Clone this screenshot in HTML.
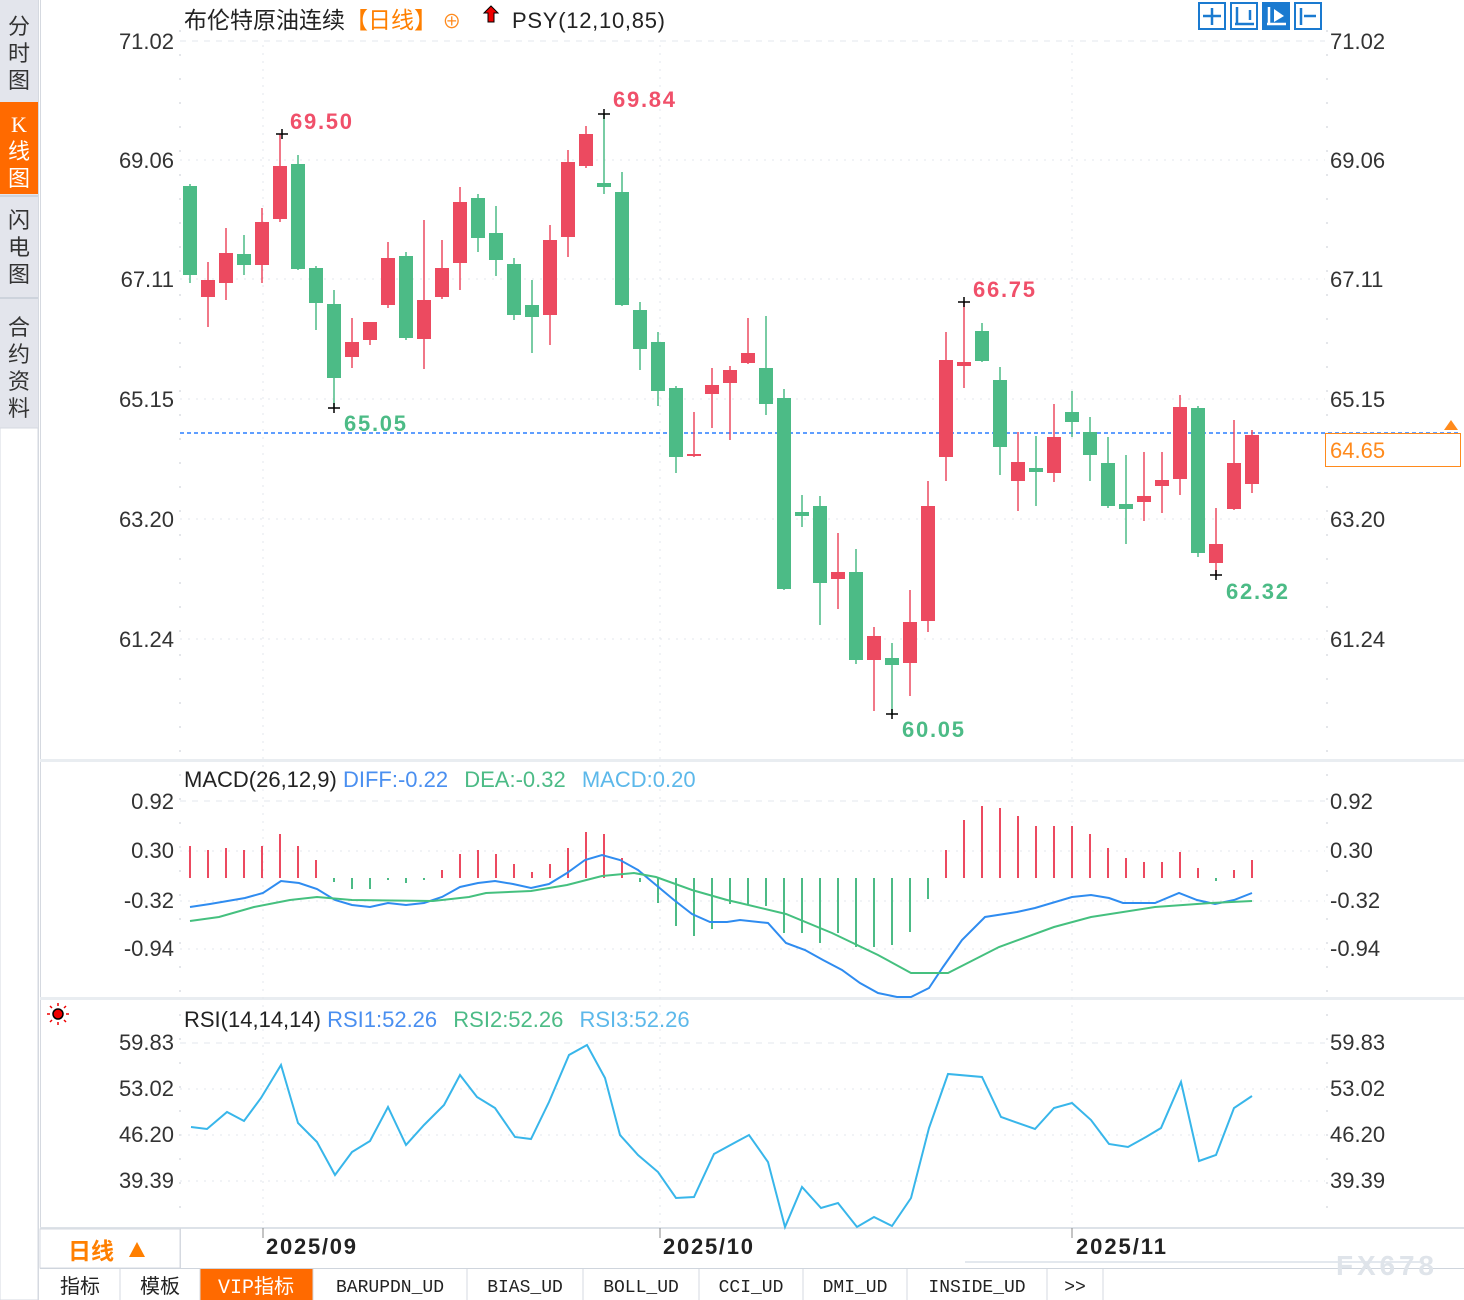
<!DOCTYPE html>
<html><head><meta charset="utf-8"><style>
html,body{margin:0;padding:0;background:#fff;}
svg{display:block;font-family:"Liberation Sans","Noto Sans CJK SC",sans-serif;}
</style></head><body>
<svg width="1464" height="1300" viewBox="0 0 1464 1300" xmlns="http://www.w3.org/2000/svg">
<rect width="1464" height="1300" fill="#fff"/>
<!-- sidebar -->
<rect x="0" y="0" width="38" height="428" fill="#e3e5ec"/>
<rect x="0" y="102" width="38" height="92" fill="#ff6a00"/>
<line x1="0" y1="196" x2="38" y2="196" stroke="#cdd3dc" stroke-width="2"/>
<line x1="0" y1="298" x2="38" y2="298" stroke="#cdd3dc" stroke-width="2"/>
<rect x="0" y="428" width="38" height="872" fill="#fff" stroke="#d5d9e0"/>
<line x1="38.5" y1="0" x2="38.5" y2="1300" stroke="#d5d9e0"/>
<g font-size="22" fill="#333" text-anchor="middle" font-family="'Noto Sans CJK SC',sans-serif">
<text x="19" y="34">分</text><text x="19" y="61">时</text><text x="19" y="88">图</text>
<text x="19" y="132" fill="#fff" font-family="'Liberation Serif',serif">K</text><text x="19" y="159" fill="#fff">线</text><text x="19" y="186" fill="#fff">图</text>
<text x="19" y="228">闪</text><text x="19" y="255">电</text><text x="19" y="282">图</text>
<text x="19" y="335">合</text><text x="19" y="362">约</text><text x="19" y="389">资</text><text x="19" y="416">料</text>
</g>
<line x1="40.5" y1="0" x2="40.5" y2="1268" stroke="#d5d9e0"/>
<!-- separators -->
<rect x="40" y="759" width="1424" height="3" fill="#e9edf1"/>
<rect x="40" y="997" width="1424" height="3" fill="#e9edf1"/>
<rect x="40" y="1227" width="1424" height="2" fill="#dde2e8"/>
<!-- axis lines -->
<g stroke="#c9ced6" stroke-dasharray="2,22">
<line x1="180" y1="30" x2="180" y2="1228"/>
<line x1="1327" y1="30" x2="1327" y2="1228"/>
</g>
<!-- grid -->
<g stroke="#e3e7ec" stroke-dasharray="6,6">
<line x1="180" y1="41" x2="1325" y2="41"/>
<line x1="180" y1="801" x2="1325" y2="801"/>
<line x1="180" y1="1043" x2="1325" y2="1043"/>
</g>
<g stroke="#e3e7ec" stroke-dasharray="2,6">
<line x1="180" y1="160" x2="1325" y2="160"/><line x1="180" y1="279" x2="1325" y2="279"/>
<line x1="180" y1="399" x2="1325" y2="399"/><line x1="180" y1="519" x2="1325" y2="519"/>
<line x1="180" y1="639" x2="1325" y2="639"/>
<line x1="180" y1="851" x2="1325" y2="851"/><line x1="180" y1="901" x2="1325" y2="901"/><line x1="180" y1="949" x2="1325" y2="949"/>
<line x1="180" y1="1089" x2="1325" y2="1089"/><line x1="180" y1="1135" x2="1325" y2="1135"/><line x1="180" y1="1181" x2="1325" y2="1181"/>
<line x1="263" y1="45" x2="263" y2="1228"/><line x1="660" y1="45" x2="660" y2="1228"/><line x1="1072" y1="45" x2="1072" y2="1228"/>
</g>
<!-- axis labels -->
<g font-size="22" fill="#333" text-anchor="end">
<text x="174" y="49">71.02</text><text x="174" y="168">69.06</text><text x="174" y="287">67.11</text>
<text x="174" y="407">65.15</text><text x="174" y="527">63.20</text><text x="174" y="647">61.24</text>
<text x="174" y="809">0.92</text><text x="174" y="858">0.30</text><text x="174" y="908">-0.32</text><text x="174" y="956">-0.94</text>
<text x="174" y="1050">59.83</text><text x="174" y="1096">53.02</text><text x="174" y="1142">46.20</text><text x="174" y="1188">39.39</text>
</g>
<g font-size="22" fill="#333">
<text x="1330" y="49">71.02</text><text x="1330" y="168">69.06</text><text x="1330" y="287">67.11</text>
<text x="1330" y="407">65.15</text><text x="1330" y="527">63.20</text><text x="1330" y="647">61.24</text>
<text x="1330" y="809">0.92</text><text x="1330" y="858">0.30</text><text x="1330" y="908">-0.32</text><text x="1330" y="956">-0.94</text>
<text x="1330" y="1050">59.83</text><text x="1330" y="1096">53.02</text><text x="1330" y="1142">46.20</text><text x="1330" y="1188">39.39</text>
</g>
<!-- title -->
<text x="184" y="28" font-size="23" fill="#222">布伦特原油连续<tspan fill="#ff7f00">【日线】</tspan><tspan fill="#ff8a1c" font-size="19"> ⊕</tspan></text>
<path d="M491 6 L498 13 L494 13 L494 22 L488 22 L488 13 L484 13 Z" fill="#e00" stroke="#000" stroke-width="1"/>
<text x="512" y="28" font-size="22" fill="#222" textLength="153">PSY(12,10,85)</text>
<!-- top-right buttons -->
<g stroke="#1a7ad0" stroke-width="2" fill="#fff">
<rect x="1199" y="3" width="26" height="26"/><rect x="1231" y="3" width="26" height="26"/><rect x="1263" y="3" width="26" height="26" fill="#1a7ad0"/><rect x="1295" y="3" width="26" height="26"/>
</g>
<g stroke="#1a7ad0" stroke-width="2.5">
<line x1="1212" y1="8" x2="1212" y2="25"/><line x1="1203" y1="16" x2="1221" y2="16"/>
<line x1="1237" y1="7" x2="1237" y2="25"/><line x1="1235" y1="24" x2="1254" y2="24"/><line x1="1250" y1="10" x2="1250" y2="20"/>
<line x1="1301" y1="8" x2="1301" y2="25"/><line x1="1304" y1="16" x2="1316" y2="16"/>
</g>
<g stroke="#fff" stroke-width="2.5"><line x1="1269" y1="7" x2="1269" y2="25"/><line x1="1267" y1="24" x2="1286" y2="24"/></g>
<path d="M1274 9 L1284 16 L1274 22 Z" fill="#fff"/>
<!-- price dashed line -->
<line x1="180" y1="433" x2="1460" y2="433" stroke="#2a7fff" stroke-width="1.5" stroke-dasharray="4,3"/>
<rect x="1325.5" y="433.5" width="135" height="33" fill="#fff" stroke="#ff8a1c"/>
<text x="1330" y="458" font-size="22" fill="#ff8a1c">64.65</text>
<path d="M1444 430 L1451 420 L1458 430 Z" fill="#ff8a1c"/>
<!-- candles -->
<g id="candles"></g>
<!-- markers -->
<g stroke="#000" stroke-width="1.5">
<line x1="276" y1="134" x2="288" y2="134"/><line x1="282" y1="129" x2="282" y2="139"/>
<line x1="598" y1="114" x2="610" y2="114"/><line x1="604" y1="109" x2="604" y2="119"/>
<line x1="328" y1="408" x2="340" y2="408"/><line x1="334" y1="403" x2="334" y2="413"/>
<line x1="886" y1="714" x2="898" y2="714"/><line x1="892" y1="709" x2="892" y2="719"/>
<line x1="958" y1="302" x2="970" y2="302"/><line x1="964" y1="297" x2="964" y2="307"/>
<line x1="1210" y1="575" x2="1222" y2="575"/><line x1="1216" y1="570" x2="1216" y2="580"/>
</g>
<g font-size="22" font-weight="bold">
<text x="290" y="129" fill="#f0506a" textLength="62">69.50</text>
<text x="613" y="107" fill="#f0506a" textLength="62">69.84</text>
<text x="973" y="297" fill="#f0506a" textLength="62">66.75</text>
<text x="344" y="431" fill="#4cbb86" textLength="62">65.05</text>
<text x="902" y="737" fill="#4cbb86" textLength="62">60.05</text>
<text x="1226" y="599" fill="#4cbb86" textLength="62">62.32</text>
</g>
<!-- MACD -->
<text x="184" y="787" font-size="22" fill="#222">MACD(26,12,9) <tspan fill="#4a8ff0">DIFF:-0.22</tspan>  <tspan fill="#4cbb86" dx="10">DEA:-0.32</tspan>  <tspan fill="#5cb8ea" dx="10">MACD:0.20</tspan></text>
<g id="macdbars" stroke-width="2"></g>
<polyline fill="none" stroke="#2f8cf0" stroke-width="2" points="190,907 210,904 245,898 263,893 281,881 299,883 317,889 335,900 352,905 370,907 388,903 406,905 424,903 442,897 460,887 478,883 495,881 513,884 531,888 549,884 567,873 585,860 602,855 620,860 638,870 656,885 674,900 692,914 710,922 727,922 740,920 768,923 786,943 805,950 823,960 842,970 860,983 878,993 897,997 911,997 929,988 943,967 962,940 985,917 1017,912 1035,908 1072,897 1091,895 1109,898 1123,903 1155,903 1179,893 1197,900 1215,904 1234,900 1252,893"/>
<polyline fill="none" stroke="#45c07f" stroke-width="2" points="190,921 219,917 254,907 290,900 317,897 352,900 433,901 469,897 486,893 531,891 567,885 602,876 634,873 656,877 692,890 727,900 740,903 786,914 832,933 878,955 911,973 948,973 999,947 1054,927 1091,917 1155,907 1211,903 1252,901"/>
<!-- RSI -->
<g transform="translate(58,1014)"><circle r="5" fill="#e00" stroke="#000" stroke-width="1.5"/>
<g stroke="#e00" stroke-width="1.5"><line x1="0" y1="-11" x2="0" y2="-8"/><line x1="0" y1="8" x2="0" y2="11"/><line x1="-11" y1="0" x2="-8" y2="0"/><line x1="8" y1="0" x2="11" y2="0"/><line x1="-8" y1="-8" x2="-6" y2="-6"/><line x1="8" y1="8" x2="6" y2="6"/><line x1="-8" y1="8" x2="-6" y2="6"/><line x1="8" y1="-8" x2="6" y2="-6"/></g></g>
<text x="184" y="1027" font-size="22" fill="#222">RSI(14,14,14) <tspan fill="#4a8ff0">RSI1:52.26</tspan>  <tspan fill="#4cbb86" dx="10">RSI2:52.26</tspan>  <tspan fill="#5cb8ea" dx="10">RSI3:52.26</tspan></text>
<polyline fill="none" stroke="#38b6ea" stroke-width="2" points="191,1127 207,1129 227,1112 244,1121 261,1098 281,1065 298,1123 317,1142 335,1175 352,1152 370,1141 388,1107 406,1145 424,1125 444,1105 460,1075 477,1097 495,1108 515,1137 531,1139 549,1102 569,1055 587,1045 605,1078 620,1135 638,1155 658,1172 676,1198 694,1197 714,1154 736,1142 749,1135 768,1162 785,1227 802,1187 821,1208 838,1203 857,1227 874,1217 892,1226 911,1198 929,1128 948,1074 982,1077 1001,1117 1035,1129 1054,1108 1072,1103 1091,1120 1109,1144 1128,1147 1146,1137 1161,1128 1181,1082 1199,1161 1216,1155 1234,1108 1252,1096"/>
<!-- date axis -->
<line x1="180.5" y1="1228" x2="180.5" y2="1268" stroke="#d5d9e0"/>
<g stroke="#888"><line x1="263" y1="1228" x2="263" y2="1238"/><line x1="660" y1="1228" x2="660" y2="1238"/><line x1="1072" y1="1228" x2="1072" y2="1238"/></g>
<g font-size="22" fill="#222" font-weight="bold"><text x="266" y="1254" textLength="90">2025/09</text><text x="663" y="1254" textLength="90">2025/10</text><text x="1076" y="1254" textLength="90">2025/11</text></g>
<rect x="40" y="1229" width="140" height="39" fill="#fff" stroke="#d5d9e0"/>
<text x="68" y="1259" font-size="23" fill="#ff7f00" font-weight="bold" font-family="'Noto Sans CJK SC',sans-serif">日线</text>
<path d="M129 1257 L137 1242 L145 1257 Z" fill="#ff7f00"/>
<line x1="965" y1="1262" x2="1420" y2="1262" stroke="#e3e8ee" stroke-width="2"/>
<!-- bottom tabs -->
<rect x="40" y="1268" width="1424" height="32" fill="#fff"/>
<line x1="40" y1="1268.5" x2="1464" y2="1268.5" stroke="#cfd5dd"/>
<rect x="200" y="1269" width="113" height="31" fill="#ff6a00"/>
<g stroke="#d5d9e0"><line x1="120" y1="1269" x2="120" y2="1300"/><line x1="200" y1="1269" x2="200" y2="1300"/><line x1="313" y1="1269" x2="313" y2="1300"/><line x1="467" y1="1269" x2="467" y2="1300"/><line x1="583" y1="1269" x2="583" y2="1300"/><line x1="699" y1="1269" x2="699" y2="1300"/><line x1="803" y1="1269" x2="803" y2="1300"/><line x1="907" y1="1269" x2="907" y2="1300"/><line x1="1047" y1="1269" x2="1047" y2="1300"/><line x1="1103" y1="1269" x2="1103" y2="1300"/></g>
<g font-size="20" fill="#222" font-family="'Liberation Mono','Noto Sans CJK SC',monospace" text-anchor="middle">
<text x="80" y="1293" font-family="'Noto Sans CJK SC',sans-serif">指标</text>
<text x="160" y="1293" font-family="'Noto Sans CJK SC',sans-serif">模板</text>
<text x="256" y="1293" fill="#fff">VIP<tspan font-family="'Noto Sans CJK SC',sans-serif">指标</tspan></text>
<text x="390" y="1292" font-size="18">BARUPDN_UD</text>
<text x="525" y="1292" font-size="18">BIAS_UD</text>
<text x="641" y="1292" font-size="18">BOLL_UD</text>
<text x="751" y="1292" font-size="18">CCI_UD</text>
<text x="855" y="1292" font-size="18">DMI_UD</text>
<text x="977" y="1292" font-size="18">INSIDE_UD</text>
<text x="1075" y="1292" font-size="18">&gt;&gt;</text>
</g>
<text x="1336" y="1275" font-size="28" fill="#dfe4ea" font-weight="bold" textLength="98">FX678</text>
<script>
var C=[[190,'g',186,275,184,283],[208,'r',280,297,262,327],[226,'r',253,283,228,300],[244,'g',254,265,235,275],[262,'r',222,265,208,283],[280,'r',166,219,134,222],[298,'g',164,269,155,270],[316,'g',268,303,266,330],[334,'g',304,378,290,408],[352,'r',342,357,318,368],[370,'r',322,340,322,345],[388,'r',258,305,242,308],[406,'g',256,338,252,340],[424,'r',300,339,220,369],[442,'r',268,297,240,299],[460,'r',202,263,187,290],[478,'g',198,238,194,252],[496,'g',233,260,206,276],[514,'g',264,315,258,320],[532,'g',305,317,280,353],[550,'r',240,315,225,345],[568,'r',162,237,150,257],[586,'r',134,166,126,168],[604,'g',183,187,114,194],[622,'g',192,305,172,306],[640,'g',310,349,302,370],[658,'g',342,391,332,406],[676,'g',388,457,386,473],[694,'r',454,456,412,457],[712,'r',385,394,368,428],[730,'r',370,383,366,440],[748,'r',353,363,318,364],[766,'g',368,404,316,415],[784,'g',398,589,389,590],[802,'g',512,516,495,527],[820,'g',506,583,496,625],[838,'r',572,579,533,609],[856,'g',572,660,549,664],[874,'r',636,660,627,711],[892,'g',658,665,643,715],[910,'r',622,663,590,696],[928,'r',506,621,481,632],[946,'r',360,457,332,481],[964,'r',362,366,302,388],[982,'g',331,361,323,362],[1000,'g',380,447,367,475],[1018,'r',462,481,432,511],[1036,'g',468,472,436,506],[1054,'r',437,473,404,482],[1072,'g',412,422,391,437],[1090,'g',432,455,417,481],[1108,'g',463,506,437,508],[1126,'g',504,509,455,544],[1144,'r',496,502,452,521],[1162,'r',480,486,452,513],[1180,'r',407,479,395,495],[1198,'g',408,553,406,557],[1216,'r',544,563,508,575],[1234,'r',463,509,420,510],[1252,'r',435,484,430,493]];
var NS='http://www.w3.org/2000/svg',g=document.getElementById('candles');
C.forEach(function(c){var col=c[1]=='r'?'#ec4a60':'#4cbb86';
var l=document.createElementNS(NS,'line');l.setAttribute('x1',c[0]);l.setAttribute('x2',c[0]);l.setAttribute('y1',c[4]);l.setAttribute('y2',c[5]);l.setAttribute('stroke',col);l.setAttribute('stroke-width','1.5');g.appendChild(l);
var r=document.createElementNS(NS,'rect');r.setAttribute('x',c[0]-7);r.setAttribute('y',c[2]);r.setAttribute('width',14);r.setAttribute('height',Math.max(2,c[3]-c[2]));r.setAttribute('fill',col);g.appendChild(r);});
var M=[[190,846],[208,850],[226,848],[244,850],[262,846],[280,834],[298,846],[316,860],[334,882],[352,889],[370,889],[388,880],[406,883],[424,880],[442,870],[460,854],[478,850],[496,854],[514,864],[532,872],[550,864],[568,848],[586,832],[604,834],[622,858],[640,882],[658,903],[676,926],[694,936],[712,929],[730,904],[748,904],[766,906],[784,933],[802,933],[820,943],[838,933],[856,947],[874,947],[892,945],[910,932],[928,899],[946,850],[964,820],[982,806],[1000,808],[1018,816],[1036,826],[1054,826],[1072,826],[1090,834],[1108,848],[1126,858],[1144,862],[1162,862],[1180,852],[1198,868],[1216,881],[1234,870],[1252,860]];
var mb=document.getElementById('macdbars');
M.forEach(function(m){var l=document.createElementNS(NS,'line');l.setAttribute('x1',m[0]);l.setAttribute('x2',m[0]);l.setAttribute('y1',878);l.setAttribute('y2',m[1]);l.setAttribute('stroke',m[1]<878?'#ec4a60':'#4cbb86');l.setAttribute('stroke-width','2');mb.appendChild(l);});
</script>
</svg>
</body></html>
